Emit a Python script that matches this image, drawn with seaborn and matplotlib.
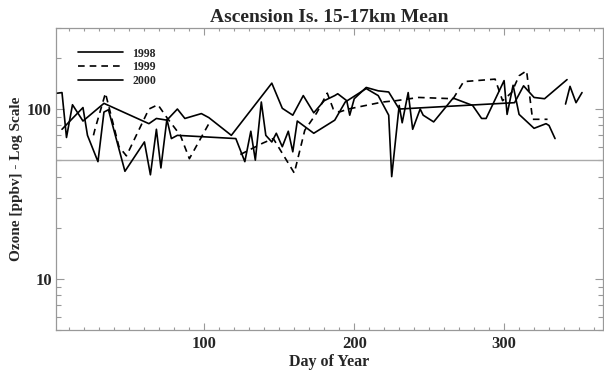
import numpy as np
import pandas as pd
import seaborn as sns
import matplotlib.pyplot as plt
from matplotlib.lines import Line2D
from matplotlib.ticker import FixedLocator, MultipleLocator, LogLocator, NullFormatter, FixedFormatter

# ozone means, 15-17 km, Ascension Island (None = gap in record)
days_1998 = [2, 5, 8, 12, 19, 33, 63, 68, 75, 82, 87, 98, 103, 118, 145, 152, 159, 166, 173,
             180, 187, 189, 195, 197, 200, 208, 216, 223, 230, 307, 313, 320, 327, 342]
ozone_1998 = [124, 125, 68, 106, 85, 108, 82, 88, 86, 100, 88, 94, 89, 70, 142, 101, 92, 120, 95,
              112, 120, 123, 112, 92, 115, 134, 128, 126, 100, 109, 137, 117, 115, 149]

days_1999 = [26, 27, 34, 43, 48, 63, 69, 75, 84, 90, 103, 110, 124, 139, 146, 160, 167, 175, 182,
             186, 190, 196, 219, 228, 243, 266, 273, 294, 299, 305, 310, 315, 319, 329]
ozone_1999 = [70, 76, 124, 60, 53, 100, 106, 89, 70, 51, 82, None, 54, 63, 67, 42, 75, 95, 124,
              100, 96, 100, 110, 112, 117, 115, 145, 150, 112, 125, 157, 168, 87, 87]

days_2000 = [5, 19, 22, 29, 33, 36, 47, 60, 64, 68, 71, 75, 78, 82, 121, 127, 131, 134, 138, 141,
             145, 148, 152, 156, 159, 162, 173, 187, 194, 208, 216, 223, 225, 230, 232, 236, 239,
             244, 246, 253, 266, 279, 285, 288, 300, 302, 306, 310, 320, 328, 330, 334, 338,
             341, 344, 348, 352]
ozone_2000 = [76, 102, 70, 49, 96, 99, 43, 64, 41, 76, 45, 87, 67, 70, 67, 49, 74, 50, 110, 70,
              64, 72, 60, 74, 56, 85, 72, 86, 110, 132, 120, 92, 40, 105, 83, 125, 76,
              100, 92, 84, 116, 105, 88, 88, 147, 93, 138, 93, 77, 82, 80, 67, None,
              107, 136, 109, 125]

years = ['1998', '1999', '2000']


def to_frame(days, vals):
    rows, seg = [], 0
    for d, v in zip(days, vals):
        if v is None:
            seg += 1
            continue
        rows.append((d, v, seg))
    return pd.DataFrame(rows, columns=['day', 'ozone', 'seg'])


sns.set_theme(style='ticks')
plt.rcParams['font.family'] = ['Liberation Serif', 'DejaVu Serif']
plt.rcParams['font.weight'] = 'bold'

fig = plt.figure(figsize=(6.04, 3.74), dpi=100)
ax = fig.add_axes([56 / 604, 1 - 330 / 374, 547 / 604, 302 / 374])

ax.axhline(50, color='#aaaaaa', lw=1, zorder=1)

styles = ['-', (0, (4, 3)), '-']
for days, vals, ls in zip([days_1998, days_1999, days_2000],
                          [ozone_1998, ozone_1999, ozone_2000], styles):
    df = to_frame(days, vals)
    sns.lineplot(data=df, x='day', y='ozone', units='seg', estimator=None,
                 color='black', lw=1.2, linestyle=ls, ax=ax, zorder=3)

ax.set_yscale('log')
ax.set_xlim(1, 366)
ax.set_ylim(5, 300)

ax.xaxis.set_major_locator(FixedLocator([100, 200, 300]))
ax.xaxis.set_minor_locator(MultipleLocator(10))
ax.yaxis.set_major_locator(FixedLocator([10, 100]))
ax.yaxis.set_major_formatter(FixedFormatter(['10', '100']))
ax.yaxis.set_minor_locator(LogLocator(base=10, subs=np.arange(2, 10)))
ax.yaxis.set_minor_formatter(NullFormatter())

ax.tick_params(which='both', direction='in', top=True, right=True, color='#999999',
               labelsize=12, width=0.8)
ax.tick_params(axis='x', which='major', length=5, pad=4)
ax.tick_params(axis='x', which='minor', length=2.2)
ax.tick_params(axis='y', which='major', length=6, pad=3)
ax.tick_params(axis='y', which='minor', length=3.5)
for lab in ax.get_xticklabels() + ax.get_yticklabels():
    lab.set_fontweight('bold')
for sp in ax.spines.values():
    sp.set_color('#999999')
    sp.set_linewidth(0.9)

ax.set_title('Ascension Is. 15-17km Mean', fontsize=14, fontweight='bold', pad=4)
ax.set_xlabel('Day of Year', fontsize=11.5, fontweight='bold', labelpad=2)
ax.set_ylabel('Ozone [ppbv] - Log Scale', fontsize=11, fontweight='bold', labelpad=3)

handles = [Line2D([], [], color='black', lw=1.2, linestyle=ls) for ls in styles]
ax.legend(handles, years, loc='upper left', bbox_to_anchor=(0.04, 0.935), frameon=False,
          borderpad=0, borderaxespad=0, handlelength=3.8, handletextpad=0.8,
          labelspacing=0.15, prop={'size': 8.5, 'weight': 'bold'})

fig.savefig('out.png', dpi=100)
